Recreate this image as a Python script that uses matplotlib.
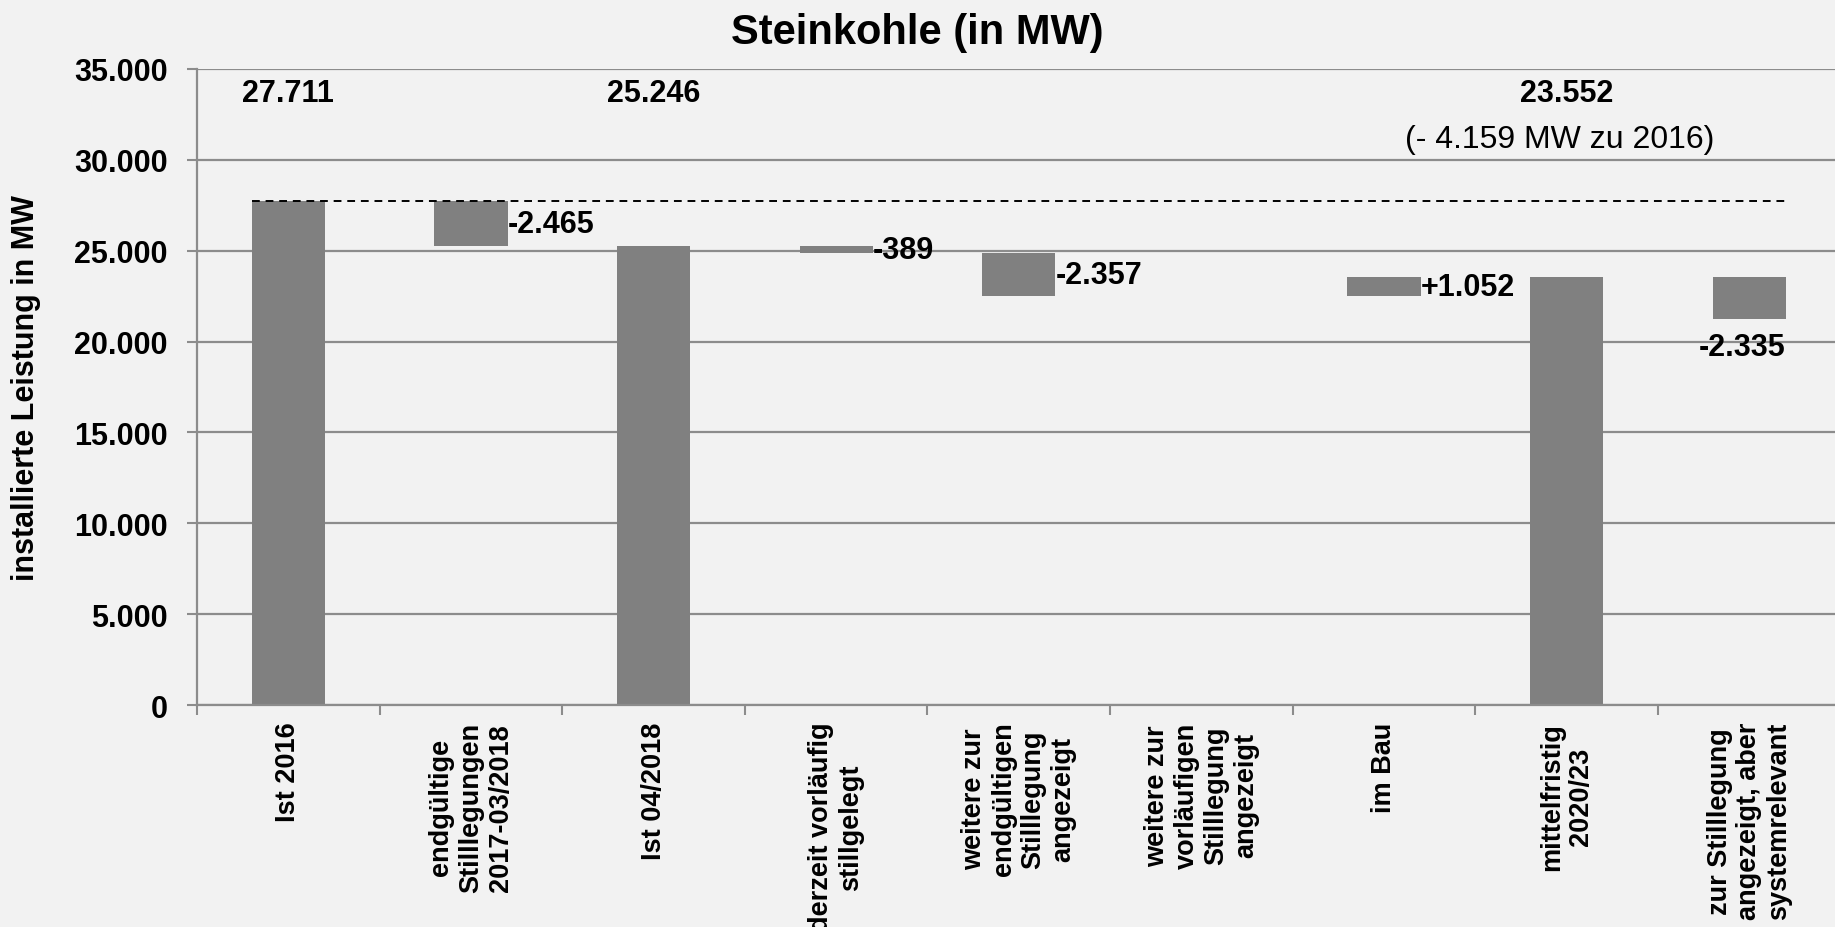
import numpy as np
import matplotlib
matplotlib.use("Agg")
import matplotlib.pyplot as plt

plt.rcParams['font.family'] = ['Liberation Sans', 'DejaVu Sans']

categories = [
    "Ist 2016",
    "endgültige\nStilllegungen\n2017-03/2018",
    "Ist 04/2018",
    "derzeit vorläufig\nstillgelegt",
    "weitere zur\nendgültigen\nStilllegung\nangezeigt",
    "weitere zur\nvorläufigen\nStilllegung\nangezeigt",
    "im Bau",
    "mittelfristig\n2020/23",
    "zur Stilllegung\nangezeigt, aber\nsystemrelevant",
]
values = [27711, -2465, 25246, -389, -2357, 0, 1052, 23552, -2335]
is_total = [True, False, True, False, False, False, False, True, False]
note = "(- 4.159 MW zu 2016)"
reference_level = 27711

bg = '#f2f2f2'
bar_color = '#808080'
grid_color = '#8c8c8c'


def de_fmt(v, sign=False):
    s = f"{abs(v):,}".replace(",", ".")
    if sign:
        return ("+" if v > 0 else "-") + s
    return s


# waterfall bottoms / heights
bottoms = []
heights = []
level = 0
for v, tot in zip(values, is_total):
    if tot:
        bottoms.append(0)
        heights.append(v)
        level = v
    else:
        new = level + v
        bottoms.append(min(level, new))
        heights.append(abs(v))
        level = new

fig = plt.figure(figsize=(18.35, 9.28), dpi=100, facecolor=bg)
ax = fig.add_axes([0.1074, 0.2392, 0.8956, 0.6854])
ax.set_facecolor(bg)

x = np.arange(len(categories))
w = 0.4
ax.bar(x, heights, w, bottom=bottoms, color=bar_color, zorder=2)

ax.plot([-w / 2, len(categories) - 1 + w / 2], [reference_level] * 2,
        color='black', ls='--', lw=1.4, dashes=(4, 3), zorder=3)

ax.set_xlim(-0.5, len(categories) - 0.5)
ax.set_ylim(0, 35000)
ax.set_yticks(np.arange(0, 35001, 5000))
ax.set_yticklabels([de_fmt(t) for t in range(0, 35001, 5000)],
                   fontsize=22, fontweight='bold')
ax.yaxis.grid(True, color=grid_color, lw=1.6, zorder=0)
ax.set_axisbelow(True)
ax.tick_params(axis='y', length=7, width=1.5, color=grid_color, pad=14)

ax.set_xticks(x)
ax.set_xticklabels(categories, rotation=90, fontsize=19.5, fontweight='bold',
                   va='top', ha='center', multialignment='center',
                   linespacing=1.18)
ax.set_xticks(np.arange(-0.5, len(categories)), minor=True)
ax.tick_params(axis='x', which='major', length=0, pad=12)
ax.tick_params(axis='x', which='minor', length=7, width=1.5, color=grid_color)

for s in ['top', 'right']:
    ax.spines[s].set_visible(False)
for s in ['left', 'bottom']:
    ax.spines[s].set_color(grid_color)
    ax.spines[s].set_linewidth(1.6)

ax.set_ylabel("installierte Leistung in MW", fontsize=22, fontweight='bold',
              labelpad=24)

# value labels
last = len(categories) - 1
for i, (v, tot) in enumerate(zip(values, is_total)):
    if tot:
        ax.text(i, 33700, de_fmt(v), ha='center', va='center',
                fontsize=22, fontweight='bold')
    elif v != 0:
        if i == last:
            ax.text(i + w / 2, bottoms[i] - 700, de_fmt(v, True), ha='right',
                    va='top', fontsize=22, fontweight='bold')
        else:
            ax.text(i + w / 2, bottoms[i] + heights[i] / 2, de_fmt(v, True),
                    ha='left', va='center', fontsize=22, fontweight='bold')

ax.text(6.96, 31150, note, ha='center', va='center', fontsize=23)

fig.text(0.5, 0.964, "Steinkohle (in MW)", ha='center', va='center',
         fontsize=30, fontweight='bold')

fig.savefig("out.png", dpi=100, facecolor=bg)
